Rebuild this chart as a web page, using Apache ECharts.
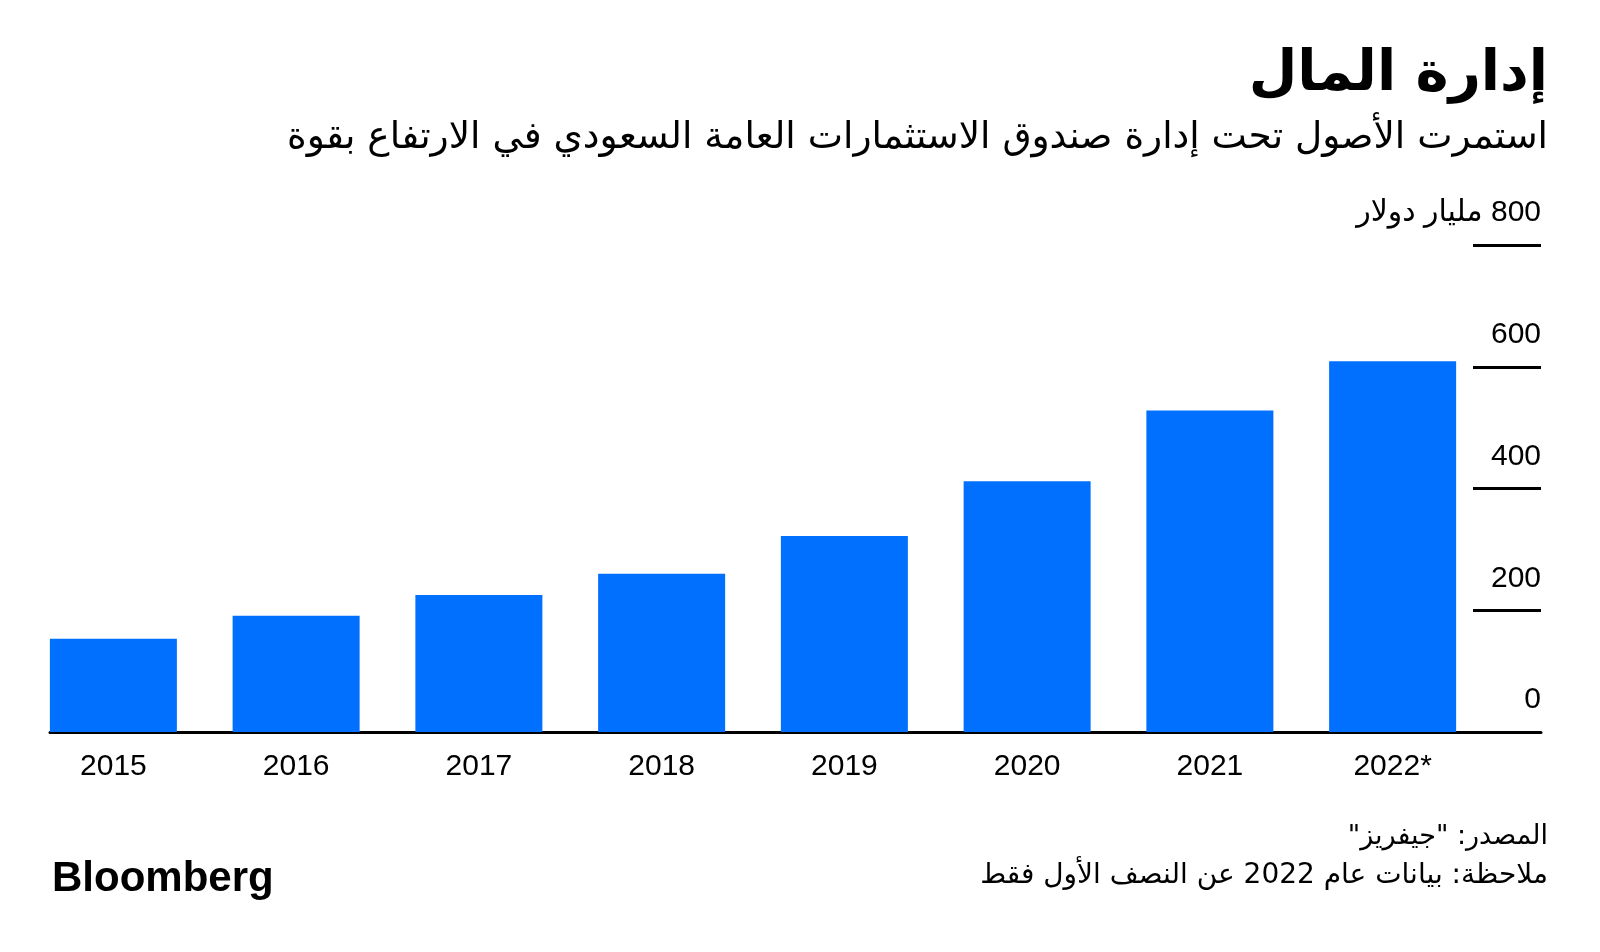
<!DOCTYPE html>
<html><head><meta charset="utf-8">
<script src="https://cdn.jsdelivr.net/npm/echarts/dist/echarts.min.js"></script>
<style>html,body{margin:0;padding:0;background:#fff}#c{width:1600px;height:952px}</style>
</head><body><div id="c"></div>
<script>
const categories = ['2015', '2016', '2017', '2018', '2019', '2020', '2021', '2022*'];
const assets = [153, 191, 225, 260, 322, 412, 528, 609];
const yTicks = [0, 200, 400, 600, 800];
const unitLabel = 'مليار دولار';
const titleText = 'إدارة المال';
const subtitleText = 'استمرت الأصول تحت إدارة صندوق الاستثمارات العامة السعودي في الارتفاع بقوة';
const sourceText = 'المصدر: "جيفريز"';
const noteText = 'ملاحظة: بيانات عام 2022 عن النصف الأول فقط';
const logoText = 'Bloomberg';

const RLM = '\u200F';
const rtl = s => RLM + s + RLM;
const AR = '"DejaVu Sans", "Liberation Sans", sans-serif';
const LAT = '"Liberation Sans", Arial, "DejaVu Sans", sans-serif';
const BLUE = '#0270FF';

const chart = echarts.init(document.getElementById('c'), null, {renderer: 'canvas'});
chart.setOption({
  backgroundColor: '#ffffff',
  animation: false,
  title: [
    {text: rtl(titleText), right: 47, top: 42,
     textStyle: {fontFamily: AR, fontWeight: 'bold', fontSize: 56, color: '#000'}},
    {text: rtl(subtitleText), right: 47, top: 114,
     textStyle: {fontFamily: AR, fontWeight: 'normal', fontSize: 37.5, color: '#000'}},
    {text: rtl(sourceText), right: 47, top: 818,
     textStyle: {fontFamily: AR, fontWeight: 'normal', fontSize: 27, color: '#000'}},
    {text: rtl(noteText), right: 47, top: 857,
     textStyle: {fontFamily: AR, fontWeight: 'normal', fontSize: 28, color: '#000'}},
    {text: logoText, left: 47, top: 853,
     textStyle: {fontFamily: LAT, fontWeight: 'bold', fontSize: 42, color: '#000'}}
  ],
  grid: [
    {left: 22, width: 1462, top: 245, height: 487, containLabel: false},
    {left: 50, width: 1491, top: 245, height: 487, containLabel: false}
  ],
  xAxis: [
    {type: 'category', gridIndex: 0, data: categories,
     axisLine: {show: false}, axisTick: {show: false},
     axisLabel: {fontFamily: LAT, fontSize: 30, color: '#000', margin: 20}},
    {type: 'value', gridIndex: 1, min: 0, max: 1,
     axisLine: {show: true, lineStyle: {color: '#000', width: 3}},
     axisTick: {show: false}, axisLabel: {show: false}, splitLine: {show: false}}
  ],
  yAxis: [
    {type: 'value', gridIndex: 0, position: 'right', offset: -11,
     min: yTicks[0], max: yTicks[yTicks.length - 1], interval: yTicks[1] - yTicks[0],
     axisLine: {show: false},
     axisTick: {show: true, inside: false, length: 68, lineStyle: {color: '#000', width: 3}},
     splitLine: {show: false},
     axisLabel: {
       fontFamily: LAT, fontSize: 30, color: '#000', align: 'right', margin: 68,
       verticalAlign: 'bottom', padding: [0, 0, 17, 0],
       formatter: v => v === yTicks[yTicks.length - 1] ? RLM + v + ' ' + unitLabel : String(v)
     }},
    {type: 'value', gridIndex: 1, show: false, min: 0, max: 1}
  ],
  series: [
    {type: 'bar', xAxisIndex: 0, yAxisIndex: 0, data: assets,
     barCategoryGap: '30.5%', itemStyle: {color: BLUE}, z: 2}
  ]
});
</script></body></html>
